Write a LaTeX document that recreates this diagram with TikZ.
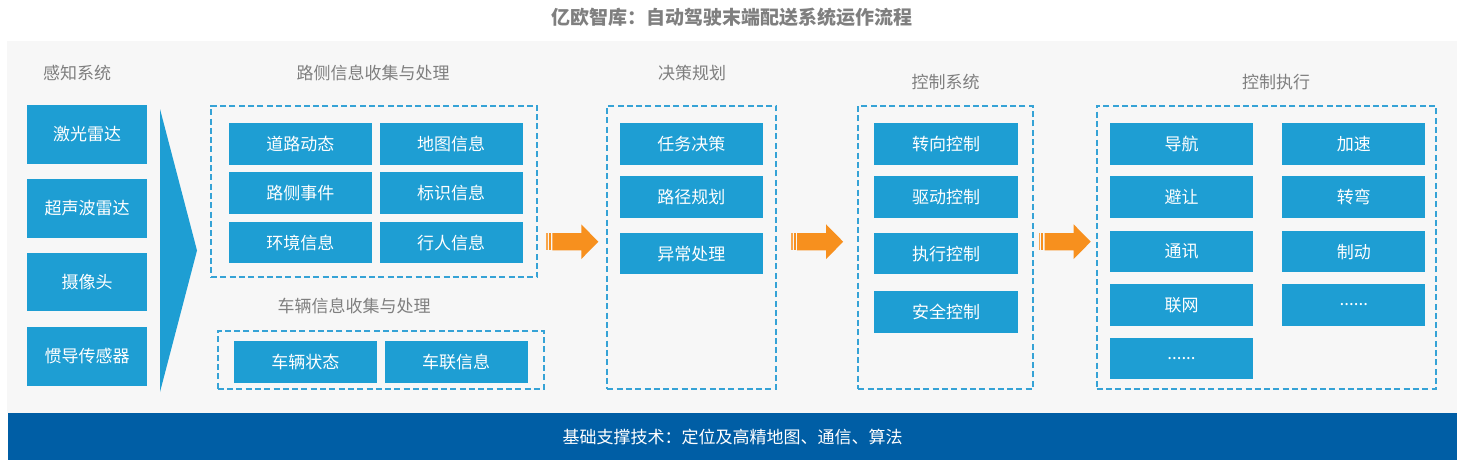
\documentclass[tikz,border=0pt]{standalone}
\usepackage{fontspec}
\setmainfont{Noto Sans CJK SC}
\usepackage{xcolor}
\usepackage{tikz}
\usetikzlibrary{positioning,fit,calc}
\definecolor{cellblue}{HTML}{1E9ED3}
\definecolor{barblue}{HTML}{005EA5}
\definecolor{panelgray}{HTML}{F7F7F7}
\definecolor{dashblue}{HTML}{36A3D6}
\definecolor{flowor}{HTML}{F7901E}
\definecolor{headgray}{HTML}{7F7F7F}

\begin{document}
\begin{tikzpicture}[
  x=1pt, y=-1pt,
  cell/.style={fill=cellblue, text=white, inner sep=0pt,
               minimum width=143pt, minimum height=41.7pt,
               font=\fontsize{17}{20}\selectfont},
  sensor/.style={cell, minimum width=120pt, minimum height=58.7pt},
  grp/.style={draw=dashblue, line width=1.8pt, dash pattern=on 6pt off 3.3pt,
              inner sep=0pt},
  head/.style={text=headgray, font=\fontsize{17}{20}\selectfont},
  flow/.pic={
    \fill[flowor!80] (-26,-8.7) rectangle (-24.6,8.7);
    \fill[flowor] (-23.3,-8.7) rectangle (-21.3,8.7);
    \fill[flowor] (-20,-8.7) -- (9,-8.7) -- (9,-17.3) -- (26,0)
      -- (9,17.3) -- (9,8.7) -- (-20,8.7) -- cycle;
  }
]
\useasboundingbox (0,0) rectangle (1463,464);
\fill[panelgray] (7,41) rectangle (1457,413);

\node[text=headgray, font=\fontsize{19}{22}\selectfont\bfseries] (title) at (732,17)
  {亿欧智库：自动驾驶末端配送系统运作流程};

% sensing
\node[head] (hsense) at (77,73) {感知系统};
\node[sensor] (s1) at (87,134.4) {激光雷达};
\node[sensor, below=15pt of s1] (s2) {超声波雷达};
\node[sensor, below=14.3pt of s2] (s3) {摄像头};
\node[sensor, below=15.3pt of s3] (s4) {惯导传感器};
\fill[cellblue] (160,109) -- (160,392) -- (197,250.5) -- cycle;

% roadside and vehicle info
\node[head] (hroad) at (373,73) {路侧信息收集与处理};
\node[cell] (r1) at (300.3,143.8) {道路动态};
\node[cell, right=7.3pt of r1] (r2) {地图信息};
\node[cell, below=7.3pt of r1] (r3) {路侧事件};
\node[cell, right=7.3pt of r3] (r4) {标识信息};
\node[cell, below=7.3pt of r3] (r5) {环境信息};
\node[cell, right=7.3pt of r5] (r6) {行人信息};
\node[grp, fit={(211,105.7) (537.3,277.3)}] (road) {};

\node[head] (hcar) at (354,306) {车辆信息收集与处理};
\node[cell] (v1) at (305.3,362) {车辆状态};
\node[cell, right=7.3pt of v1] (v2) {车联信息};
\node[grp, fit={(217.7,330.7) (544,388.7)}] (car) {};

% decision
\node[head] (hplan) at (692,73) {决策规划};
\node[cell] (p1) at (691.3,143.8) {任务决策};
\node[cell, below=11.3pt of p1] (p2) {路径规划};
\node[cell, below=14.3pt of p2] (p3) {异常处理};
\node[grp, fit={(607.3,105.7) (776,389)}] (plan) {};

% control
\node[head] (hctrl) at (945.5,82) {控制系统};
\node[cell, minimum width=144pt] (c1) at (946,143.8) {转向控制};
\node[cell, minimum width=144pt, below=11.3pt of c1] (c2) {驱动控制};
\node[cell, minimum width=144pt, below=14.3pt of c2] (c3) {执行控制};
\node[cell, minimum width=144pt, below=16.3pt of c3] (c4) {安全控制};
\node[grp, fit={(858.3,105.7) (1032.7,389)}] (ctrl) {};

% execution
\node[head] (hexec) at (1276,82) {控制执行};
\node[cell] (e1) at (1181.5,143.8) {导航};
\node[cell, right=29pt of e1] (e2) {加速};
\node[cell, below=11.3pt of e1] (e3) {避让};
\node[cell, right=29pt of e3] (e4) {转弯};
\node[cell, below=12.3pt of e3] (e5) {通讯};
\node[cell, right=29pt of e5] (e6) {制动};
\node[cell, below=11.3pt of e5] (e7) {联网};
\node[cell, right=29pt of e7] (e8) {......};
\node[cell, below=11.3pt of e7] (e9) {......};
\node[grp, fit={(1096.7,105.7) (1435.7,389)}] (exec) {};

% flow arrows
\coordinate (a1) at ($(road.east)!.5!(plan.west)$);
\coordinate (a2) at ($(plan.east)!.5!(ctrl.west)$);
\coordinate (a3) at ($(ctrl.east)!.5!(exec.west)$);
\pic at (a1 |- 0,241.7) {flow};
\pic at (a2 |- 0,241.7) {flow};
\pic at (a3 |- 0,241.7) {flow};

% base bar
\node[fill=barblue, text=white, inner sep=0pt, minimum width=1449pt,
      minimum height=47pt, font=\fontsize{17}{20}\selectfont] (base) at (732.5,436.5)
  {基础支撑技术：定位及高精地图、通信、算法};
\end{tikzpicture}
\end{document}
